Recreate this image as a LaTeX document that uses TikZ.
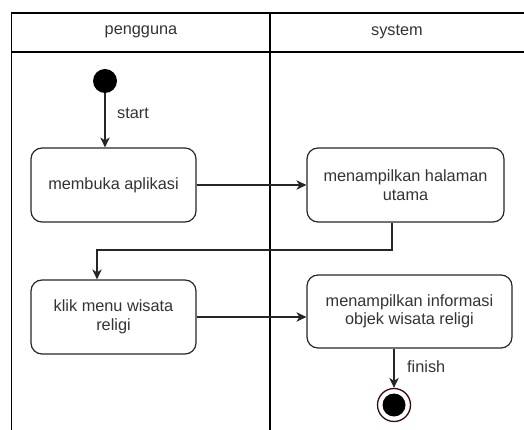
\documentclass[tikz,border=0pt]{standalone}
\usepackage{fontspec}
\setmainfont{Liberation Sans}
\usetikzlibrary{arrows.meta}
\definecolor{txt}{HTML}{333333}
\definecolor{endring}{RGB}{50,10,10}
\begin{document}
\begin{tikzpicture}[x=1pt,y=-1pt,
  lane/.style={draw=black,line width=1.1pt},
  activity/.style={draw=black!85,line width=1.2pt,rounded corners=11pt,
    align=center,text=txt,inner sep=0pt,font=\fontsize{16.3}{18.5}\selectfont},
  flow/.style={draw=black!85,line width=1.2pt,
    -{Stealth[length=10pt,width=9.5pt,inset=3pt]}},
  lbl/.style={text=txt,font=\fontsize{16.3}{18.5}\selectfont,inner sep=0pt},
]
\useasboundingbox (0,0) rectangle (524,430);

% swimlanes
\draw[lane] (524,13) -- (11.5,13) -- (11.5,430);
\draw[lane] (11.5,52) -- (524,52);
\draw[lane] (270,13) -- (270,430);
\node[lbl] (h1) at (141,32) {pengguna};
\node[lbl] (h2) at (397,32) {system};

% initial and final states
\node[circle,fill=black,minimum size=24pt,inner sep=0pt] (start) at (105,81) {};
\node[circle,draw=endring,line width=1.3pt,fill=white,minimum size=33pt,inner sep=0pt] (end) at (394,405) {};
\node[circle,fill=black,minimum size=23pt,inner sep=0pt] (endin) at (end.center) {};

% activities
\node[activity,minimum width=165pt,minimum height=74pt] (b1) at (113.5,185) {membuka aplikasi};
\node[activity,minimum width=197pt,minimum height=74pt] (b2) at (405.5,185) {menampilkan halaman\\utama};
\node[activity,minimum width=165pt,minimum height=74pt] (b3) at (113.5,317) {klik menu wisata\\religi};
\node[activity,minimum width=205pt,minimum height=73pt] (b4) at (409.5,311.5) {menampilkan informasi\\objek wisata religi};

% transitions
\draw[flow] (start.south) -- (start.south |- b1.north);
\node[lbl,anchor=west] (ls) at (117,113) {start};
\draw[flow] (b1.east) -- (b2.west);
\coordinate (k1) at (392,250);
\coordinate (k2) at (97,250);
\draw[flow] (k1 |- b2.south) -- (k1) -- (k2) -- (k2 |- b3.north);
\draw[flow] (b3.east) -- (b3.east -| b4.west);
\draw[flow] (end.north |- b4.south) -- (end.north);
\node[lbl,anchor=west] (lf) at (407,367) {finish};
\end{tikzpicture}
\end{document}
